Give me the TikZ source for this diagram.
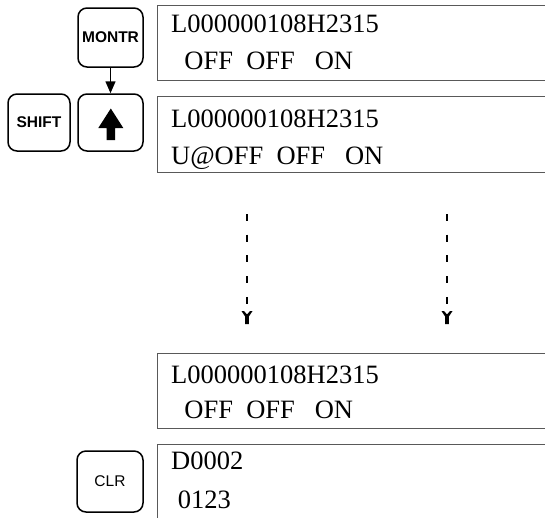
\documentclass[tikz,border=0pt]{standalone}
\usepackage{fontspec}
\setmainfont{Liberation Serif}
\newfontfamily\keyfont{Liberation Sans}
\usetikzlibrary{arrows.meta}
\begin{document}
\begin{tikzpicture}[x=1pt,y=-1pt,
  key/.style={draw,line width=1.5pt,rounded corners=9pt,inner sep=0pt,
    font=\keyfont\bfseries\fontsize{15.5}{15.5}\selectfont},
  lcd/.style={draw=black!65,line width=1.2pt,inner sep=0pt,anchor=north west,minimum width=420pt},
  txt/.style={anchor=base west,inner sep=0pt,font=\fontsize{26.5}{30}\selectfont},
  dots/.style={line width=2.2pt,dash pattern=on 7pt off 13.7pt},
  ytip/.style={fill=black}]
\clip (0,0) rectangle (545,517);
% keys
\node[key,minimum width=65pt,minimum height=59pt] (montr) at (110.5,37.5) {MONTR};
\node[key,minimum width=65pt,minimum height=57pt] (up) at (110.5,122.5) {};
\node[key,minimum width=62pt,minimum height=57pt] (shift) at (39,122.5) {SHIFT};
\node[key,minimum width=66pt,minimum height=61pt,
  font=\keyfont\fontsize{15.5}{15.5}\selectfont] (clr) at (110,481.5) {CLR};
\draw[line width=1.5pt,-{Triangle[length=12pt,width=10pt]}] (montr) -- (up);
\fill[shift={(up.center)}] (0.3,-14) -- (12.8,5.5) -- (4.6,5.5) -- (4.6,17.5)
  -- (-4,17.5) -- (-4,5.5) -- (-12.2,5.5) -- cycle;
% lcd boxes
\node[lcd,minimum height=75pt] (lcd1) at (157,5) {};
\node[lcd,minimum height=76pt] (lcd2) at (157,96) {};
\node[lcd,minimum height=75pt] (lcd3) at (157,353) {};
\node[lcd,minimum height=90pt] (lcd4) at (157,444) {};
% texts
\node[txt] (t1a) at (171,32) {L000000108H2315};
\node[txt] (t1b) at (171,69) {\ \ OFF\ \ OFF\ \ \ ON};
\node[txt] (t2a) at (171,127) {L000000108H2315};
\node[txt] (t2b) at (171,164) {U@OFF\ \ OFF\ \ \ ON};
\node[txt] (t3a) at (171,383) {L000000108H2315};
\node[txt] (t3b) at (171,418) {\ \ OFF\ \ OFF\ \ \ ON};
\node[txt] (t4a) at (171,469) {D0002};
\node[txt] (t4b) at (171,508) {\ 0123};
% dashed arrows
\coordinate (a1) at (247,214);
\coordinate (m1) at (247,308);
\coordinate (b1) at (247,324);
\coordinate (a2) at (447,214);
\coordinate (m2) at (447,308);
\coordinate (b2) at (447,324);
\draw[dots] (a1) -- (m1);
\draw[dots] (a2) -- (m2);
\foreach \b in {b1,b2}{
  \fill[ytip,shift={(\b)}] (-5.5,-13) -- (-3,-13) -- (0,-9.5) -- (3,-13) -- (5.5,-13)
    -- (1.9,-7.5) -- (1.9,0) -- (-1.9,0) -- (-1.9,-7.5) -- cycle;
}
\end{tikzpicture}
\end{document}
